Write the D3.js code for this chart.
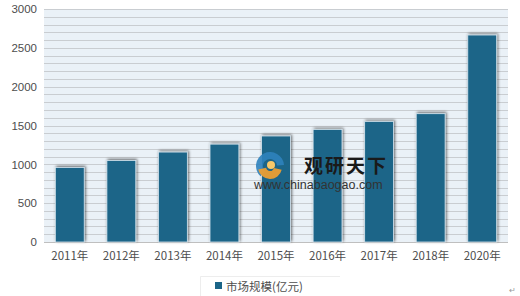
<!DOCTYPE html>
<html>
<head>
<meta charset="utf-8">
<script src="https://cdn.jsdelivr.net/npm/d3@7"></script>
<style>
  body { margin: 0; background: #fff; }
  text { font-family: "Noto Sans CJK SC", "Liberation Sans", sans-serif; }
</style>
</head>
<body>
<div id="chart"></div>
<script>
const years = ['2011年', '2012年', '2013年', '2014年', '2015年', '2016年', '2017年', '2018年', '2020年']
const values = [960, 1050, 1158, 1260, 1365, 1450, 1553, 1652, 2665]
const yTicks = [0, 500, 1000, 1500, 2000, 2500, 3000]
const seriesName = '市场规模(亿元)'

const col = { bar: '#1b6588', plot: '#eaf1f7', grid: '#c9cdd1', text: '#4d4d4d' }

let width = 520, height = 296;
let margin = { top: 9, right: 12, bottom: 54, left: 44 };

const svg = d3.select('#chart').append('svg')
    .attr('width', width).attr('height', height);

const defs = svg.append('defs');
const f = defs.append('filter').attr('id', 'shadow')
    .attr('x', '-30%').attr('y', '-10%').attr('width', '160%').attr('height', '120%');
f.append('feGaussianBlur').attr('in', 'SourceAlpha').attr('stdDeviation', 1.8).attr('result', 'b');
f.append('feOffset').attr('in', 'b').attr('dx', 1).attr('dy', -1).attr('result', 'o');
f.append('feComponentTransfer').attr('in', 'o').attr('result', 's')
    .append('feFuncA').attr('type', 'linear').attr('slope', 0.6);
const m = f.append('feMerge');
m.append('feMergeNode').attr('in', 's');
m.append('feMergeNode').attr('in', 'SourceGraphic');

const x = d3.scaleBand().domain(years)
    .range([margin.left, width - margin.right]).paddingInner(0.44).paddingOuter(0.22);
const y = d3.scaleLinear().domain([0, 3000]).range([height - margin.bottom, margin.top]);

// plot background + gridlines every 100
svg.append('rect')
    .attr('x', margin.left).attr('y', margin.top)
    .attr('width', width - margin.left - margin.right)
    .attr('height', y(0) - margin.top)
    .attr('fill', col.plot);

svg.append('g').selectAll('line')
    .data(d3.range(0, 3001, 100))
    .join('line')
    .attr('x1', margin.left).attr('x2', width - margin.right)
    .attr('y1', d => Math.round(y(d)) + 0.5).attr('y2', d => Math.round(y(d)) + 0.5)
    .attr('stroke', d => d === 0 ? '#bfbfbf' : col.grid)
    .attr('stroke-width', 1);

// y axis
const yAxis = svg.append('g')
    .attr('transform', `translate(${margin.left - 7},0)`)
    .call(d3.axisLeft(y).tickValues(yTicks).tickFormat(d3.format('d')).tickSize(0).tickPadding(0));
yAxis.select('.domain').remove();
yAxis.selectAll('text').attr('fill', col.text).style('font-size', '11.5px')
    .style('font-family', '"Liberation Sans", sans-serif');

// x axis
const xAxis = svg.append('g')
    .attr('transform', `translate(0,${y(0)})`)
    .call(d3.axisBottom(x).tickSize(0).tickPadding(10));
xAxis.select('.domain').remove();
xAxis.selectAll('text').attr('fill', col.text).style('font-size', '11.5px');

// bars
svg.append('g').selectAll('rect')
    .data(values)
    .join('rect')
    .attr('x', (d, i) => x(years[i]))
    .attr('y', d => y(d))
    .attr('width', x.bandwidth())
    .attr('height', d => y(0) - y(d))
    .attr('fill', col.bar)
    .attr('stroke', '#d6e4ee')
    .attr('stroke-width', 0.8)
    .attr('filter', 'url(#shadow)');

// watermark
const wm = svg.append('g').attr('transform', 'translate(254,152)');
wm.append('path')
    .attr('d', d3.arc()({ innerRadius: 7, outerRadius: 14, startAngle: -2.4, endAngle: 1.5 }))
    .attr('transform', 'translate(16,14)').attr('fill', '#2f82bd').attr('opacity', 0.9);
wm.append('path')
    .attr('d', d3.arc()({ innerRadius: 4, outerRadius: 12, startAngle: 1.8, endAngle: 4.5 }))
    .attr('transform', 'translate(16,15)').attr('fill', '#f0a030').attr('opacity', 0.92);
wm.append('circle').attr('cx', 17).attr('cy', 13).attr('r', 4).attr('fill', '#f7c86a');
wm.append('text').attr('x', 50).attr('y', 21)
    .attr('fill', '#1a1a1a').style('font-size', '19px').style('font-weight', 'bold')
    .style('letter-spacing', '2px').text('观研天下');
wm.append('text').attr('x', 0).attr('y', 37)
    .attr('fill', '#333').style('font-size', '12.5px')
    .style('font-family', '"Liberation Sans", sans-serif').text('www.chinabaogao.com');

// legend
const lg = svg.append('g').attr('transform', 'translate(200,276)');
lg.append('path').attr('d', 'M0.5,20V0.5H140').attr('fill', 'none').attr('stroke', '#ededed');
lg.append('rect').attr('x', 15).attr('y', 6).attr('width', 7).attr('height', 7).attr('fill', col.bar);
lg.append('text').attr('x', 26).attr('y', 15).attr('fill', col.text)
    .style('font-size', '11.5px').text(seriesName);

svg.append('text').attr('x', 509).attr('y', 293).attr('fill', '#999')
    .style('font-size', '8px').text('↵');
</script>
</body>
</html>
